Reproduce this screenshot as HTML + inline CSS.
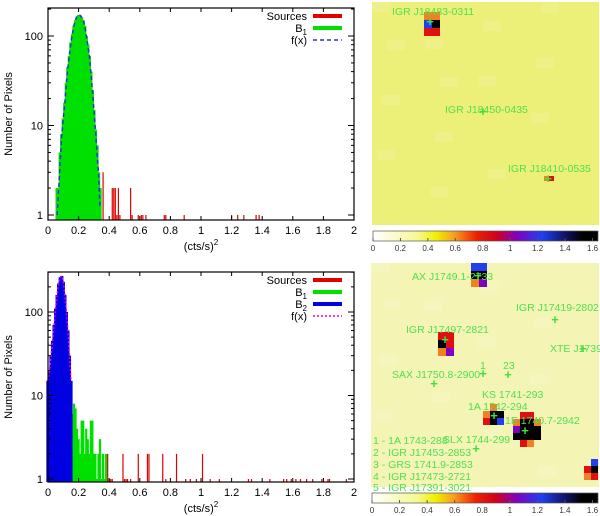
<!DOCTYPE html>
<html><head><meta charset="utf-8"><style>
body{margin:0;background:#fff;width:600px;height:516px;overflow:hidden;font-family:"Liberation Sans",sans-serif}
svg{position:absolute;left:0;top:0}
</style></head><body>
<svg id="s" width="600" height="516" font-family="Liberation Sans, sans-serif"></svg>
<script>
// ---- data ----
const topGreenX=[0.06,0.07,0.08,0.09,0.10,0.11,0.12,0.13,0.14,0.15,0.16,0.17,0.18,0.19,0.20,0.21,0.22,0.23,0.24,0.25,0.26,0.27,0.28,0.29,0.30,0.31,0.32,0.33,0.34];
const topGreenY=[2,1,5,8,12,18,30,45,60,85,105,130,150,165,172,170,160,150,130,100,80,60,40,25,15,9,6,3,2];
const topFx=[1,2,4,8,12,18,30,45,62,85,108,132,152,166,172,170,162,150,130,102,80,60,40,25,15,9,5,3,1.2];
const topRedX=[0.36,0.42,0.43,0.44,0.45,0.46,0.47,0.54,0.55,0.59,0.61,0.62,0.64,0.76,0.77,0.89,1.20,1.24,1.28,1.36,1.38];
const topRedY=[3,2,2,2,1,2,1,2,1,1,1,1,1,1,1,1,1,1,1,1,1];
const botBlueX=[0.00,0.01,0.02,0.03,0.04,0.05,0.06,0.07,0.08,0.09,0.10,0.11,0.12,0.13,0.14,0.15];
const botBlueY=[15,20,30,45,70,110,160,220,260,270,230,160,100,60,30,15];
const botGreenX=[0.16,0.17,0.18,0.19,0.20,0.21,0.22,0.23,0.24,0.25,0.26,0.27,0.28,0.29,0.30,0.31,0.32,0.33,0.34,0.35,0.36,0.37,0.38];
const botGreenY=[6,8,7,4,3,2,5,5,2,4,3,2,5,5,2,2,1,2,3,1,2,1,2];
const botRedX=[0.39,0.40,0.41,0.42,0.49,0.50,0.51,0.52,0.54,0.59,0.65,0.66,0.75,0.77,0.84,0.90,0.93,0.97,1.01,1.06,1.12,1.31,1.33,1.45,1.54,1.56,1.59,1.62,1.65,1.69,1.73,1.79,1.83,1.84,1.95];
const botRedY=[2,1,1,1,2,1,1,1,1,2,2,2,2,1,2,1,1,1,2,1,1,1,1,1,1,1,1,1,1,1,1,1,1,1,1];
const xTicks=["0","0.2","0.4","0.6","0.8","1","1.2","1.4","1.6","1.8","2"];
const cbTicks=["0","0.2","0.4","0.6","0.8","1","1.2","1.4","1.6"];

const S=document.getElementById('s');const NS='http://www.w3.org/2000/svg';
function el(t,a,p){const e=document.createElementNS(NS,t);for(const k in a)e.setAttribute(k,a[k]);(p||S).appendChild(e);return e;}
function txt(x,y,s,a,p){const e=el('text',Object.assign({x:x,y:y,'font-size':11,fill:'#000'},a||{}),p);e.textContent=s;return e;}

function plot(name,P){
  const g=el('g',{});
  
  
  const X=v=>P.x0+(P.x1-P.x0)*v/2;
  const Y=v=>P.y1-(Math.log10(v))*P.dec;
  const yb=P.bot;
  P.series.forEach(s=>{
    const sg=el('g',{},g);
    
    
    s.x.forEach((xv,i)=>{
      const r=el('rect',{x:X(xv)-(s.w/2),y:Y(s.y[i]),width:s.w,height:Math.max(0,yb-Y(s.y[i])),fill:s.c},sg);
      
      
    });
  });
  if(P.fx){let d='';P.fx.x.forEach((xv,i)=>{d+=(i?'L':'M')+X(xv)+','+Y(P.fx.y[i]);});
    const l=el('path',{d:d,fill:'none',stroke:P.fx.c,'stroke-width':1.5,'stroke-dasharray':P.fx.dash},g);
    }
  el('rect',{x:P.x0,y:P.top,width:P.x1-P.x0,height:P.bot-P.top,fill:'none',stroke:'#000','stroke-width':1.2},g);
  xTicks.forEach((t,i)=>{const x=X(i*0.2);
    el('line',{x1:x,x2:x,y1:P.bot,y2:P.bot-4,stroke:'#000'},g);el('line',{x1:x,x2:x,y1:P.top,y2:P.top+4,stroke:'#000'},g);
    txt(x,P.bot+14,t,{'text-anchor':'middle'},g);});
  [1,10,100].forEach(v=>{const y=Y(v);
    el('line',{x1:P.x0,x2:P.x0+6,y1:y,y2:y,stroke:'#000'},g);el('line',{x1:P.x1,x2:P.x1-6,y1:y,y2:y,stroke:'#000'},g);
    txt(P.x0-5,y+4,String(v),{'text-anchor':'end'},g);
    for(let m=2;m<10;m++){const yy=Y(v*m);if(yy>P.top){el('line',{x1:P.x0,x2:P.x0+3,y1:yy,y2:yy,stroke:'#000'},g);el('line',{x1:P.x1,x2:P.x1-3,y1:yy,y2:yy,stroke:'#000'},g);}}
  });
  const xl=txt((P.x0+P.x1)/2,P.bot+30,'(cts/s)',{'text-anchor':'middle'},g);
  const sp=el('tspan',{dy:-5,'font-size':8},xl);sp.textContent='2';
  const yl=txt(0,0,'Number of Pixels',{'text-anchor':'middle',transform:'translate(12,'+((P.top+P.bot)/2)+') rotate(-90)'},g);
  
  P.legend.forEach((L,i)=>{const y=P.top+8+i*12;
    const t=txt(307,y+4,L.t,{'text-anchor':'end'},g);
    if(L.sub){const s2=el('tspan',{dy:3,'font-size':8},t);s2.textContent=L.sub;}
    const ln=el('line',{x1:313,x2:342,y1:y,y2:y,stroke:L.c,'stroke-width':L.dash?1.5:4,'stroke-dasharray':L.dash||''},g);
    
  });
}
plot('top-histogram',{x0:48,x1:354,top:8,bot:220,y1:215,dec:89.5,
  series:[{name:'b1-green',x:topGreenX,y:topGreenY,c:'#00e000',w:3.3},{name:'sources-red',x:topRedX,y:topRedY,c:'#e00000',w:1.2}],
  fx:{x:topGreenX,y:topFx,c:'#3030d0',dash:'4,3'},
  legend:[{t:'Sources',c:'#e00000'},{t:'B',sub:'1',c:'#00e000'},{t:'f(x)',c:'#3030d0',dash:'4,3'}]});
plot('bottom-histogram',{x0:48,x1:354,top:272,bot:482,y1:479,dec:83.5,
  series:[{name:'b1-green',x:botGreenX,y:botGreenY,c:'#00e000',w:2.2},{name:'sources-red',x:botRedX,y:botRedY,c:'#e00000',w:1.2},{name:'b2-blue',x:botBlueX,y:botBlueY,c:'#0000e0',w:3.3}],
  fx:{x:botBlueX,y:botBlueY,c:'#e000e0',dash:'2,2'},
  legend:[{t:'Sources',c:'#e00000'},{t:'B',sub:'1',c:'#00e000'},{t:'B',sub:'2',c:'#0000e0'},{t:'f(x)',c:'#e000e0',dash:'2,2'}]});

const defs=el('defs',{});
const lg=el('linearGradient',{id:'cb',x1:0,x2:1,y1:0,y2:0},defs);
[[0,'#ffffff'],[0.2,'#f6f890'],[0.28,'#f0f000'],[0.36,'#f8a020'],[0.46,'#f02000'],[0.55,'#d00020'],[0.64,'#8000c0'],[0.75,'#2040f0'],[0.86,'#101060'],[0.93,'#000000'],[1,'#000000']].forEach(s=>el('stop',{offset:s[0],'stop-color':s[1]},lg));
function image(name,x0,y0,x1,y1,bg,blobs,labels,cbY){
  const g=el('g',{});
  el('rect',{x:x0,y:y0,width:x1-x0,height:y1-y0,fill:bg},g);
  for(let i=0;i<14;i++){el('rect',{x:x0+((i*53)%(x1-x0-20)),y:y0+((i*37)%(y1-y0-20)),width:18,height:10,fill:'#ffffff',opacity:0.12},g);}
  blobs.forEach(b=>{b.cells.forEach(c=>el('rect',{x:b.x+c[0]*b.s,y:b.y+c[1]*b.s,width:b.s,height:b.s,fill:c[2]},g));});
  labels.forEach(L=>{const t=txt(L[0],L[1],L[2],{fill:'#50e050','font-size':10.5},g);
    if(L[3]){txt(L[3],L[4]+4,'+',{fill:'#40e040','font-size':13,'font-weight':'bold','text-anchor':'middle'},g);}});
  const cb=el('rect',{x:x0+1,y:cbY,width:x1-x0-2,height:10,fill:'url(#cb)',stroke:'#555','stroke-width':0.7},g);
  
  cbTicks.forEach((t,i)=>{const x=x0+1+(x1-x0-2)*i/8*(1.6/1.64);
    el('line',{x1:x,x2:x,y1:cbY+10,y2:cbY+7,stroke:'#555'},g);
    txt(x,cbY+20,t,{'text-anchor':'middle','font-size':8,fill:'#333'},g);});
}
const K='#000',B='#2040f0',R='#e01010',O='#f08020',P='#8000c0';
image('top-sky-image',372,2,599,225,'#ecf078',[
  {x:424,y:12,s:8,cells:[[0,0,O],[1,0,O],[0,1,B],[1,1,K],[0,2,R],[1,2,R]]},
  {x:544,y:176,s:5,cells:[[0,0,O],[1,0,R]]}],
  [[392,15,'IGR J18483-0311',430,22],[445,113,'IGR J18450-0435',483,112],[508,172,'IGR J18410-0535',548,179]],231);
image('bottom-sky-image',371,263,599,487,'#f4f5b4',[
  {x:471,y:263,s:8,cells:[[0,0,B],[1,0,B],[0,1,K],[1,1,K],[0,2,O],[1,2,P]]},
  {x:438,y:332,s:8,cells:[[0,0,R],[1,0,R],[0,1,K],[1,1,R],[0,2,O],[1,2,P]]},
  {x:483,y:404,s:7,cells:[[1,0,O],[0,1,O],[1,1,K],[2,1,K],[0,2,R],[1,2,K],[2,2,B]]},
  {x:513,y:412,s:7,cells:[[1,0,R],[2,0,R],[0,1,O],[1,1,K],[2,1,K],[3,1,O],[0,2,P],[1,2,K],[2,2,K],[3,2,K],[0,3,K],[1,3,K],[2,3,K],[3,3,K],[1,4,R],[2,4,O]]},
  {x:584,y:459,s:7,cells:[[1,0,B],[0,1,R],[1,1,K],[0,2,O],[1,2,R]]}],
  [[412,280,'AX J1749.1-2733',478,276],[516,311,'IGR J17419-2802',555,320],[406,333,'IGR J17497-2821',445,340],[550,352,'XTE J1739',583,349],
   [480,369,'1',483,374],[503,369,'23',508,375],[392,378,'SAX J1750.8-2900',434,384],[482,398,'KS 1741-293',0,0],[468,410,'1A 1742-294',494,416],
   [505,424,'1E 1740.7-2942',525,431],[443,443,'SLX 1744-299',476,449],
   [373,444,'1 - 1A 1743-288'],[373,456,'2 - IGR J17453-2853'],[373,468,'3 - GRS 1741.9-2853'],[373,480,'4 - IGR J17473-2721'],[373,491,'5 - IGR J17391-3021']],493);
</script>
</body></html>
